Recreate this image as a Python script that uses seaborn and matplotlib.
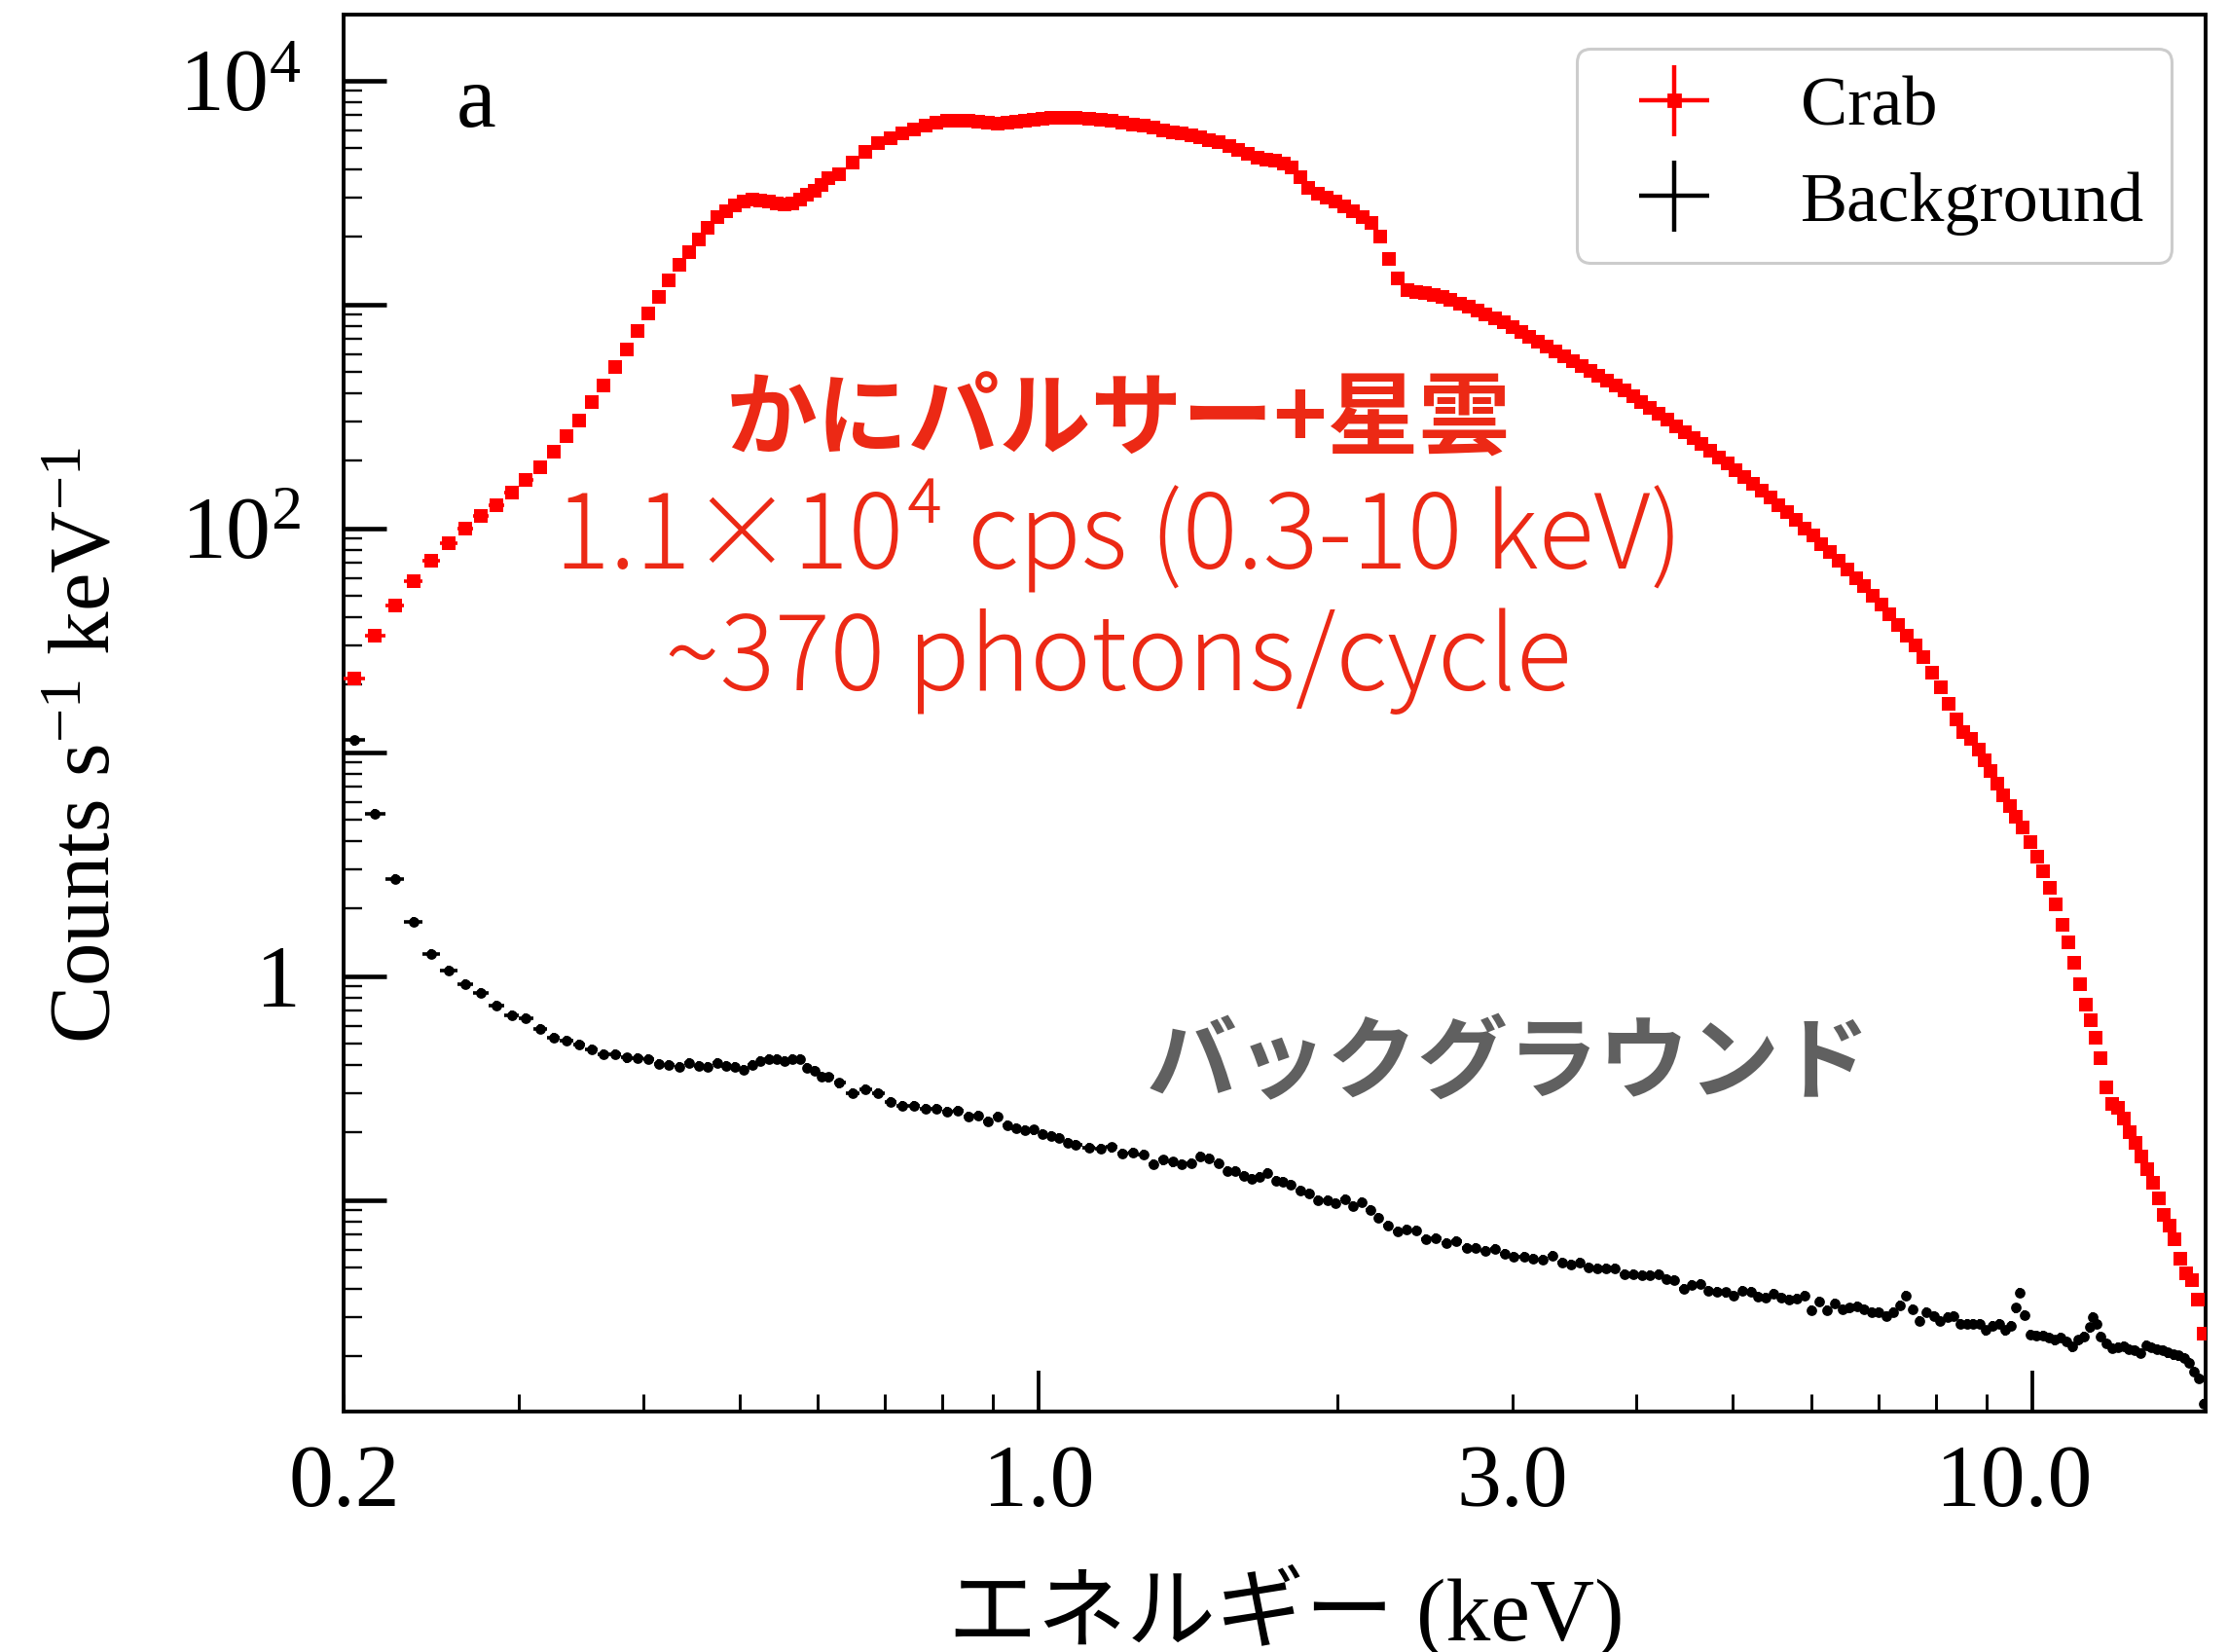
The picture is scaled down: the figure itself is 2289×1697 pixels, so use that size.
import numpy as np
import pandas as pd
import matplotlib
matplotlib.use("Agg")
import matplotlib.pyplot as plt
from matplotlib.ticker import FixedLocator, FixedFormatter, LogLocator, NullFormatter
from matplotlib.transforms import ScaledTranslation
import seaborn as sns

# ---------------------------------------------------------------- data
# Crab (pulsar + nebula) spectrum: bin centres [keV] and rate [counts/s/keV]
crab_energy_kev = [
    0.205, 0.215, 0.225, 0.235, 0.245, 0.255, 0.265, 0.275, 0.285, 0.295,
    0.305, 0.315, 0.325, 0.335, 0.345, 0.355, 0.365, 0.375, 0.385, 0.395,
    0.405, 0.415, 0.425, 0.435, 0.445, 0.455, 0.465, 0.475, 0.485, 0.495,
    0.505, 0.515, 0.525, 0.535, 0.545, 0.555, 0.565, 0.575, 0.585, 0.595,
    0.605, 0.615,
    0.63, 0.65, 0.67, 0.69, 0.71, 0.73, 0.75, 0.77, 0.79, 0.81,
    0.83, 0.85, 0.87, 0.89, 0.91, 0.93, 0.95, 0.97, 0.99, 1.01,
    1.03, 1.05, 1.07, 1.09,
    1.125, 1.155, 1.185, 1.215, 1.245, 1.275, 1.305, 1.335, 1.365, 1.395,
    1.425, 1.455, 1.485,
    1.52, 1.555, 1.59, 1.625, 1.66, 1.695, 1.73, 1.765, 1.80, 1.835,
    1.87, 1.91, 1.95, 1.99, 2.03, 2.075, 2.12, 2.165, 2.21, 2.255,
    2.30, 2.35, 2.40, 2.45, 2.50, 2.55, 2.60, 2.655, 2.71, 2.765,
    2.82, 2.88, 2.94, 3.00, 3.06, 3.12, 3.185, 3.25, 3.315, 3.38,
    3.45, 3.52, 3.59, 3.66, 3.735, 3.81, 3.885, 3.965, 4.045, 4.125,
    4.21, 4.295, 4.38, 4.47, 4.56, 4.65, 4.745, 4.84, 4.935, 5.035,
    5.135, 5.24, 5.345, 5.45, 5.56, 5.67, 5.785, 5.90, 6.02, 6.14,
    6.26, 6.385, 6.515, 6.645, 6.775, 6.91, 7.05, 7.19, 7.335, 7.48,
    7.63, 7.78, 7.935, 8.09, 8.25, 8.40, 8.52, 8.68, 8.83, 8.96,
    9.09, 9.22, 9.35, 9.50, 9.63, 9.79, 9.96, 10.11, 10.26, 10.41,
    10.56, 10.72, 10.87, 11.02, 11.18, 11.33, 11.46, 11.59, 11.73, 11.88,
    12.03, 12.21, 12.37, 12.54, 12.72, 12.89, 13.07, 13.24, 13.41, 13.57,
    13.74, 13.92, 14.10, 14.29, 14.48, 14.68, 14.88,
]
crab_rate = [
    21.4, 33.3, 45.3, 58.1, 71.9, 85.5, 99.7, 113.5, 127, 144.5,
    164, 188, 219, 257, 303, 365, 436, 524, 629, 757,
    910, 1081, 1274, 1496, 1718, 1956, 2194, 2443, 2606, 2762,
    2869, 2925, 2912, 2869, 2818, 2794, 2818, 2925, 3075, 3200,
    3400, 3650,
    3800, 4290, 4800, 5270, 5520, 5800, 6070, 6310, 6490, 6590,
    6590, 6590, 6530, 6460, 6440, 6490, 6560, 6640, 6700, 6745,
    6790, 6810, 6810, 6790,
    6720, 6670, 6590, 6470, 6360, 6260, 6150, 6010, 5880, 5780,
    5680, 5560, 5420,
    5280, 5100, 4880, 4690, 4530, 4440, 4370, 4270, 4100, 3700,
    3330, 3120, 2990, 2890, 2750, 2600, 2450, 2310, 2010, 1590,
    1300, 1160, 1140, 1120, 1100, 1075, 1045, 1010, 975, 940,
    905, 870, 830, 791, 752, 716, 680, 646, 615, 586,
    557, 530, 505, 481, 457, 435, 413, 388, 366, 345,
    324, 305, 286, 269, 252, 237, 221, 207, 195, 182,
    170, 158, 147, 137, 127, 118, 109, 100, 92.5, 84.9,
    78.0, 71.8, 65.6, 60.0, 55.0, 50.2, 45.8, 41.4, 37.1, 33.3,
    29.9, 26.5, 22.7, 19.5, 16.5, 14.0, 12.3, 11.5, 10.3, 9.18,
    8.21, 7.27, 6.42, 5.74, 5.13, 4.59, 3.96, 3.40, 2.94, 2.49,
    2.10, 1.70, 1.42, 1.15, 0.918, 0.745, 0.634, 0.530, 0.430, 0.317,
    0.269, 0.259, 0.230, 0.201, 0.180, 0.157, 0.137, 0.119, 0.102, 0.0859,
    0.0769, 0.0667, 0.0545, 0.0471, 0.0440, 0.0360, 0.0252,
]

# Non-X-ray background spectrum
bkg_energy_kev = [
    0.205, 0.215, 0.225, 0.235, 0.245, 0.255, 0.265, 0.275, 0.285, 0.295,
    0.305, 0.315, 0.325, 0.335, 0.345, 0.355, 0.365, 0.375, 0.385, 0.395,
    0.405, 0.415, 0.425, 0.435, 0.445, 0.455, 0.465, 0.475, 0.485, 0.495,
    0.505, 0.515, 0.525, 0.535, 0.545, 0.555, 0.565, 0.575, 0.585, 0.595,
    0.605, 0.615,
    0.63, 0.65, 0.67, 0.69, 0.71, 0.73, 0.75, 0.77, 0.79, 0.81,
    0.83, 0.85, 0.87, 0.89, 0.91, 0.93, 0.95, 0.97, 0.99, 1.01,
    1.03, 1.05, 1.07, 1.09,
    1.125, 1.155, 1.185, 1.215, 1.245, 1.275, 1.305, 1.335, 1.365, 1.395,
    1.425, 1.455, 1.485,
    1.518, 1.550, 1.578, 1.609, 1.641, 1.668, 1.701, 1.734, 1.763, 1.795,
    1.833, 1.872, 1.913, 1.954, 1.992, 2.034, 2.074, 2.115, 2.157, 2.198,
    2.248, 2.300, 2.348, 2.398, 2.456, 2.512, 2.576, 2.635, 2.699, 2.756,
    2.818, 2.878, 2.944, 3.010, 3.083, 3.148, 3.220, 3.288, 3.367, 3.438,
    3.506, 3.574, 3.650, 3.727, 3.806, 3.886, 3.968, 4.046, 4.125, 4.206,
    4.289, 4.366, 4.458, 4.545, 4.634, 4.725, 4.818, 4.913, 5.010, 5.108,
    5.209, 5.303, 5.399, 5.497, 5.596, 5.697, 5.792, 5.897, 6.003, 6.112,
    6.222, 6.326, 6.441, 6.548, 6.666, 6.776, 6.899, 7.013, 7.130, 7.248,
    7.357, 7.468, 7.581, 7.706, 7.833, 7.962, 8.082, 8.216, 8.340, 8.466,
    8.594, 8.723, 8.854, 8.988, 9.123, 9.260, 9.385, 9.526, 9.640, 9.712,
    9.829, 9.962, 10.10, 10.25, 10.39, 10.54, 10.69, 10.83, 10.98, 11.13,
    11.28, 11.43, 11.50, 11.60, 11.72, 11.88, 12.04, 12.21, 12.37, 12.52,
    12.69, 12.86, 13.02, 13.19, 13.35, 13.53, 13.70, 13.88, 14.05, 14.22,
    14.39, 14.56, 14.72, 14.88,
]
bkg_rate = [
    11.3, 5.31, 2.72, 1.75, 1.25, 1.06, 0.923, 0.838, 0.739, 0.671,
    0.651, 0.582, 0.531, 0.513, 0.494, 0.472, 0.447, 0.446, 0.432, 0.429,
    0.424, 0.405, 0.400, 0.393, 0.408, 0.397, 0.393, 0.408, 0.396, 0.393,
    0.381, 0.400, 0.416, 0.424, 0.424, 0.416, 0.427, 0.427, 0.390, 0.378,
    0.357, 0.354,
    0.333, 0.300, 0.312, 0.300, 0.273, 0.263, 0.263, 0.256, 0.256, 0.248,
    0.251, 0.236, 0.238, 0.224, 0.236, 0.215, 0.210, 0.205, 0.206, 0.197,
    0.193, 0.190, 0.180, 0.176,
    0.171, 0.169, 0.172, 0.161, 0.163, 0.160, 0.145, 0.151, 0.148, 0.144,
    0.146, 0.157, 0.154,
    0.1459, 0.1342, 0.1351, 0.1276, 0.1247, 0.1264, 0.1320, 0.1214, 0.1206, 0.1166,
    0.1106, 0.1069, 0.1000, 0.1000, 0.0967, 0.1011, 0.0936, 0.0977, 0.0905, 0.0835,
    0.0766, 0.0724, 0.0736, 0.0729, 0.0666, 0.0673, 0.0640, 0.0655, 0.0612, 0.0612,
    0.0593, 0.0602, 0.0573, 0.0560, 0.0560, 0.0545, 0.0541, 0.0563, 0.0524, 0.0513,
    0.0527, 0.0501, 0.0493, 0.0496, 0.0496, 0.0464, 0.0464, 0.0461, 0.0461, 0.0464,
    0.0443, 0.0439, 0.0401, 0.0417, 0.0421, 0.0393, 0.0390, 0.0387, 0.0375, 0.0393,
    0.0390, 0.0371, 0.0365, 0.0380, 0.0368, 0.0359, 0.0362, 0.0375, 0.0322, 0.0351,
    0.0322, 0.0344, 0.0325, 0.0330, 0.0336, 0.0325, 0.0314, 0.0314, 0.0304, 0.0314,
    0.0339, 0.0375, 0.0325, 0.0289, 0.0314, 0.0304, 0.0289, 0.0299, 0.0304, 0.0280,
    0.0280, 0.0280, 0.0280, 0.0262, 0.0275, 0.0280, 0.0262, 0.0275, 0.0330, 0.0384,
    0.0307, 0.0251, 0.0249, 0.0249, 0.0243, 0.0237, 0.0243, 0.0233, 0.0221, 0.0237,
    0.0245, 0.0270, 0.0301, 0.0280, 0.0246, 0.0229, 0.0218, 0.0220, 0.0223, 0.0216,
    0.0213, 0.0207, 0.0225, 0.0220, 0.0216, 0.0213, 0.0208, 0.0204, 0.0202, 0.0197,
    0.0187, 0.0171, 0.0160, 0.0123,
]
bkg_rel_err = 0.05

x_tick_values = [0.2, 1.0, 3.0, 10.0]
x_tick_labels = ["0.2", "1.0", "3.0", "10.0"]
y_tick_values = [1e-1, 1e0, 1e1, 1e2, 1e3, 1e4]
y_tick_labels = ["", "1", "", r"$\mathregular{10^{2}}$", "", r"$\mathregular{10^{4}}$"]

# ---------------------------------------------------------------- style
sns.set_style("ticks")
plt.rcParams["font.family"] = ["Liberation Serif", "Noto Sans CJK JP", "DejaVu Sans"]
plt.rcParams["mathtext.fontset"] = "custom"
plt.rcParams["mathtext.rm"] = "Liberation Serif"
plt.rcParams["mathtext.it"] = "Liberation Serif:italic"
plt.rcParams["mathtext.bf"] = "Liberation Serif:bold"
plt.rcParams["axes.linewidth"] = 1.4
plt.rcParams["axes.edgecolor"] = "black"
plt.rcParams["text.color"] = "black"
plt.rcParams["axes.labelcolor"] = "black"
plt.rcParams["xtick.color"] = "black"
plt.rcParams["ytick.color"] = "black"

RED_MARK = "#FF0000"
RED_TEXT = "#EC2915"
GREY_TEXT = "#606060"
JP = ["Noto Sans CJK JP", "DejaVu Sans"]


def half_widths(centres):
    """Lower/upper half bin widths from neighbouring bin centres."""
    e = np.asarray(centres, dtype=float)
    mids = 0.5 * (e[1:] + e[:-1])
    lo_edge = np.r_[e[0] - (mids[0] - e[0]), mids]
    hi_edge = np.r_[mids, e[-1] + (e[-1] - mids[-1])]
    return np.vstack([e - lo_edge, hi_edge - e])


crab = pd.DataFrame({"energy": crab_energy_kev, "rate": crab_rate})
bkg = pd.DataFrame({"energy": bkg_energy_kev, "rate": bkg_rate})

fig = plt.figure(figsize=(2289 / 200, 1697 / 200), dpi=200)
ax = fig.add_axes([0.15435, 0.14555, 0.8356, 0.84543])
ax.set_xscale("log")
ax.set_yscale("log")

# background: error bars + round markers
ax.errorbar(bkg["energy"], bkg["rate"], xerr=half_widths(bkg["energy"]),
            yerr=bkg["rate"] * bkg_rel_err, fmt="none", ecolor="black",
            elinewidth=1.3, capsize=0, zorder=2)
sns.scatterplot(data=bkg, x="energy", y="rate", ax=ax, marker="o", color="black",
                s=15, linewidth=0, zorder=3, legend=False)

# Crab: error bars + square markers
ax.errorbar(crab["energy"], crab["rate"], xerr=half_widths(crab["energy"]),
            fmt="none", ecolor=RED_MARK, elinewidth=1.3, capsize=0, zorder=4)
sns.scatterplot(data=crab, x="energy", y="rate", ax=ax, marker="s", color=RED_MARK,
                s=22, linewidth=0, zorder=5, legend=False)

ax.set_xlim(0.2, 14.95)
ax.set_ylim(0.01135, 19630)

# ---------------------------------------------------------------- axes
ax.xaxis.set_major_locator(FixedLocator(x_tick_values))
ax.xaxis.set_major_formatter(FixedFormatter(x_tick_labels))
ax.xaxis.set_minor_locator(LogLocator(base=10, subs=np.arange(2, 10), numticks=20))
ax.xaxis.set_minor_formatter(NullFormatter())
ax.yaxis.set_major_locator(FixedLocator(y_tick_values))
ax.yaxis.set_major_formatter(FixedFormatter(y_tick_labels))
ax.yaxis.set_minor_locator(LogLocator(base=10, subs=np.arange(2, 10), numticks=20))
ax.yaxis.set_minor_formatter(NullFormatter())

ax.tick_params(which="both", direction="in", top=False, right=False,
               labelsize=33, colors="black")
ax.tick_params(axis="y", which="major", length=15.8, width=1.65, pad=16)
ax.tick_params(axis="y", which="minor", length=6.8, width=0.85)
ax.tick_params(axis="x", which="major", length=15.0, width=1.35, pad=12)
ax.tick_params(axis="x", which="minor", length=6.5, width=1.05)
for spine in ax.spines.values():
    spine.set_visible(True)
    spine.set_linewidth(1.4)
    spine.set_color("black")

ax.set_xlabel("エネルギー (keV)", fontsize=33)
ax.xaxis.set_label_coords(0.506, -0.109)
ax.set_ylabel(r"Counts s$^{-1}$ keV$^{-1}$", fontsize=32)
ax.yaxis.set_label_coords(-0.116, 0.477)

# short ticks at the labelled non-decade positions; nudge the "10.0" label
for tick, val in zip(ax.xaxis.get_major_ticks(), x_tick_values):
    if val not in (1.0, 10.0):
        tick.tick1line.set_markersize(6.5)
        tick.tick1line.set_markeredgewidth(1.05)
    if val == 10.0:
        lbl = tick.label1
        lbl.set_transform(lbl.get_transform()
                          + ScaledTranslation(-19 / 200, 0, fig.dpi_scale_trans))

# ---------------------------------------------------------------- legend
h_crab = ax.errorbar([np.nan], [np.nan], xerr=[1], yerr=[1], fmt="s", color=RED_MARK,
                     ms=4.6, elinewidth=1.6, capsize=0)
h_bkg = ax.errorbar([np.nan], [np.nan], xerr=[1], yerr=[1], fmt="none", ecolor="black",
                    elinewidth=1.6, capsize=0)
leg = ax.legend([h_crab, h_bkg], ["Crab", "Background"], loc="upper right",
                prop={"family": "Liberation Serif", "size": 26},
                handlelength=2.0, handletextpad=0.8, borderpad=0.39,
                labelspacing=0.45, borderaxespad=0.48, fancybox=True,
                framealpha=1.0, edgecolor="#cccccc")
leg.get_frame().set_linewidth(1.1)
for txt in leg.get_texts():
    txt.set_color("black")

# ---------------------------------------------------------------- annotations
ax.text(0.0711, 0.920, "a", transform=ax.transAxes, fontsize=33,
        ha="center", va="baseline", family="Liberation Serif")
ax.text(0.416, 0.709, "かにパルサー+星雲", transform=ax.transAxes, fontsize=33.8,
        fontweight="bold", color=RED_TEXT, ha="center", va="center", family=JP)
ax.text(0.416, 0.627, "1.1×10⁴ cps (0.3-10 keV)", transform=ax.transAxes,
        fontsize=38, fontweight="light", color=RED_TEXT, ha="center",
        va="center", family=JP)
ax.text(0.416, 0.537, "~370 photons/cycle", transform=ax.transAxes,
        fontsize=38, fontweight="light", color=RED_TEXT, ha="center",
        va="center", family=JP)
ax.text(0.6257, 0.2482, "バックグラウンド", transform=ax.transAxes, fontsize=33.5,
        fontweight="bold", color=GREY_TEXT, ha="center", va="center", family=JP)

fig.savefig("out.png", dpi=200)
